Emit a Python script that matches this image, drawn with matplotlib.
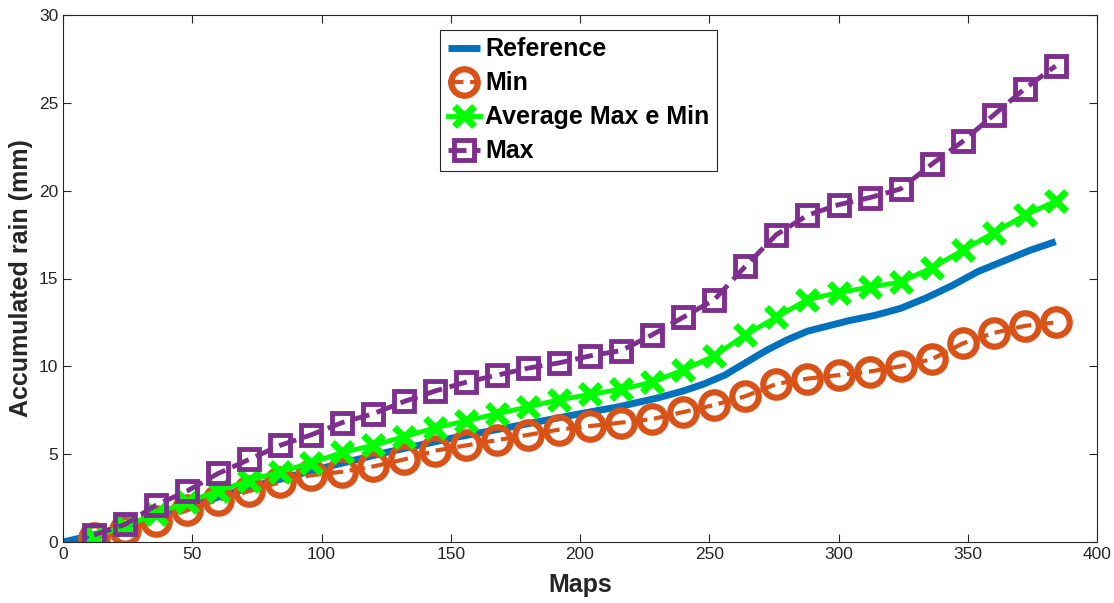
import numpy as np
import matplotlib.pyplot as plt

# values
maps = np.arange(12, 385, 12)

min_rain = [0.2, 0.7, 1.2, 1.8, 2.4, 2.9, 3.4, 3.8, 4.0, 4.3, 4.7, 5.2, 5.5, 5.8, 6.1, 6.4,
            6.6, 6.8, 7.0, 7.4, 7.8, 8.3, 9.0, 9.3, 9.5, 9.7, 10.0, 10.4, 11.3, 11.9, 12.3, 12.5]
max_rain = [0.4, 1.0, 2.1, 2.9, 3.9, 4.7, 5.5, 6.1, 6.8, 7.3, 8.0, 8.6, 9.1, 9.5, 9.9, 10.2,
            10.6, 10.9, 11.8, 12.8, 13.8, 15.7, 17.5, 18.6, 19.2, 19.6, 20.1, 21.5, 22.8, 24.3, 25.8, 27.1]
avg_rain = [0.3, 0.9, 1.6, 2.3, 2.9, 3.5, 4.0, 4.5, 5.1, 5.5, 6.0, 6.5, 6.9, 7.3, 7.7, 8.1,
            8.4, 8.7, 9.1, 9.8, 10.6, 11.8, 12.8, 13.8, 14.2, 14.5, 14.8, 15.6, 16.6, 17.6, 18.6, 19.4]

ref_x = [0, 12, 24, 48, 72, 100, 125, 150, 175, 200, 215, 230, 240, 248, 256, 264, 272,
         280, 288, 296, 304, 314, 324, 334, 344, 354, 364, 374, 384]
ref_y = [0.0, 0.4, 0.9, 2.0, 3.1, 4.2, 5.1, 5.9, 6.6, 7.3, 7.7, 8.2, 8.6, 9.0, 9.5, 10.2, 10.9,
         11.5, 12.0, 12.3, 12.6, 12.9, 13.3, 13.9, 14.6, 15.4, 16.0, 16.6, 17.1]

plt.rcParams['font.family'] = ['Liberation Sans', 'DejaVu Sans']

fig = plt.figure(figsize=(11.14, 6.03), dpi=100)
ax = fig.add_axes([63 / 1114, 1 - 542 / 603, 1034 / 1114, 527 / 603])

ax.plot(ref_x, ref_y, color='#0072BD', lw=5, label='Reference', solid_capstyle='butt')
ax.plot(maps, min_rain, color='#D95319', lw=3, ls='--', marker='o', ms=19,
        mfc='none', mew=4.5, label='Min')
ax.plot(maps, avg_rain, color='#00FF00', lw=3.5, marker='x', ms=14,
        mew=5, label='Average Max e Min')
ax.plot(maps, max_rain, color='#7E2F8E', lw=3.5, ls='--', marker='s', ms=15,
        mfc='none', mew=3.5, label='Max')

ax.set_xlim(0, 400)
ax.set_ylim(0, 30)
ax.set_xticks(range(0, 401, 50))
ax.set_yticks(range(0, 31, 5))
ax.tick_params(direction='in', length=6, labelsize=12.5, colors='#262626', top=True, right=True)
for s in ax.spines.values():
    s.set_color('#262626')
    s.set_linewidth(0.8)

ax.set_xlabel('Maps', fontsize=18, fontweight='bold', color='#262626', labelpad=8)
ax.set_ylabel('Accumulated rain (mm)', fontsize=18, fontweight='bold', color='#262626', labelpad=4)

leg = ax.legend(loc='upper left', bbox_to_anchor=(0.365, 0.972), borderaxespad=0,
                prop={'weight': 'bold', 'size': 18}, handlelength=1.3, handletextpad=0.2,
                labelspacing=0.4, borderpad=0.3, fancybox=False, framealpha=1, markerscale=1.0)
leg.get_frame().set_edgecolor('#262626')
leg.get_frame().set_linewidth(0.8)

fig.savefig('out.png', dpi=100)
